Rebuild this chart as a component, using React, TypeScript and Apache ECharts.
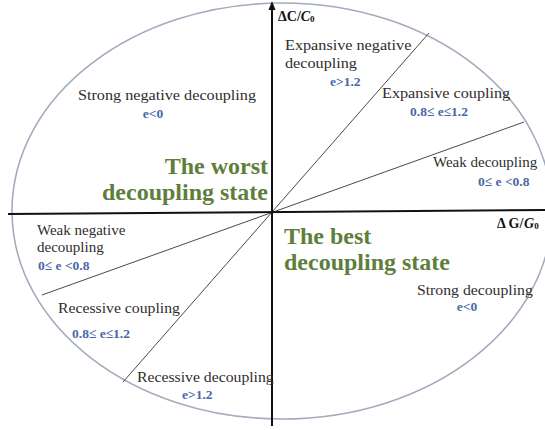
import React, { useEffect, useRef } from "react";
import * as echarts from "echarts";

// ---- content (texts only) ----
const regionNames: string[][] = [
  ["Strong negative decoupling"],
  ["Expansive negative", "decoupling"],
  ["Expansive coupling"],
  ["Weak decoupling"],
  ["Strong decoupling"],
  ["Weak negative", "decoupling"],
  ["Recessive coupling"],
  ["Recessive decoupling"],
];
const regionConditions: string[] = [
  "e<0",
  "e>1.2",
  "0.8\u2264 e\u22641.2",
  "0\u2264 e <0.8",
  "e<0",
  "0\u2264 e <0.8",
  "0.8\u2264 e\u22641.2",
  "e>1.2",
];
const stateLabels: string[][] = [
  ["The worst", "decoupling state"],
  ["The best", "decoupling state"],
];
const axisNames = { y: ["\u0394C/", "C", "0"], x: ["\u0394 G/", "G", "0"] };

// ---- layout ----
const O = { x: 272, y: 212 };
const ELL = { cx: 282, cy: 211, rx: 270, ry: 208 };
const nameLayout = [
  { x: 167, y: 95, align: "center", lh: 18, sx: 1.08 },
  { x: 285, y: 45, align: "left", lh: 18, sx: 1.08 },
  { x: 382, y: 93, align: "left", lh: 18, sx: 1.08 },
  { x: 433, y: 162, align: "left", lh: 18, sx: 1.0 },
  { x: 417, y: 290, align: "left", lh: 18, sx: 1.05 },
  { x: 37, y: 230, align: "left", lh: 17, sx: 1.0 },
  { x: 58, y: 308, align: "left", lh: 18, sx: 1.05 },
  { x: 137, y: 377, align: "left", lh: 18, sx: 1.05 },
];
const condLayout = [
  { x: 153, y: 113, align: "center" },
  { x: 330, y: 81, align: "left" },
  { x: 410, y: 111, align: "left" },
  { x: 478, y: 181, align: "left" },
  { x: 467, y: 306, align: "center" },
  { x: 38, y: 265, align: "left" },
  { x: 72, y: 333, align: "left" },
  { x: 182, y: 394, align: "left" },
];
const stateLayout = [
  { x: 268, y: 166, align: "right" },
  { x: 284, y: 236, align: "left" },
];
const diagEnds = [
  [[429, 33], [123, 382]],
  [[524, 122], [42, 295]],
];

const FONT = "'Liberation Serif', 'Times New Roman', serif";

export default function App() {
  const ref = useRef<HTMLDivElement>(null);
  useEffect(() => {
    if (!ref.current) return;
    const chart = echarts.init(ref.current, null, { renderer: "svg" });
    const g: any[] = [];
    g.push({
      type: "ellipse",
      shape: { cx: ELL.cx, cy: ELL.cy, rx: ELL.rx, ry: ELL.ry },
      style: { fill: "none", stroke: "#a3acbd", lineWidth: 1.6 },
      z: 1,
    });
    diagEnds.forEach((seg) => {
      g.push({
        type: "line",
        shape: { x1: seg[0][0], y1: seg[0][1], x2: seg[1][0], y2: seg[1][1] },
        style: { stroke: "#4a4a4a", lineWidth: 1 },
        z: 2,
      });
    });
    // axes
    g.push({
      type: "line",
      shape: { x1: O.x, y1: 6, x2: O.x, y2: 426 },
      style: { stroke: "#111", lineWidth: 2 },
      z: 3,
    });
    g.push({
      type: "polygon",
      shape: { points: [[O.x, 1], [O.x - 3.5, 10], [O.x + 3.5, 10]] },
      style: { fill: "#111" },
      z: 3,
    });
    g.push({
      type: "line",
      shape: { x1: 8, y1: 214, x2: 545, y2: 210 },
      style: { stroke: "#111", lineWidth: 2 },
      z: 3,
    });
    // axis names
    const axisRich = {
      a: { fontFamily: FONT, fontSize: 14, fontWeight: "bold", fill: "#111" },
      b: { fontFamily: FONT, fontSize: 14, fontWeight: "bold", fontStyle: "italic", fill: "#111" },
      c: { fontFamily: FONT, fontSize: 9, fontWeight: "bold", fill: "#111", padding: [6, 0, 0, 0] },
    };
    g.push({
      type: "text",
      x: 278,
      y: 16,
      style: {
        text: `{a|${axisNames.y[0]}}{b|${axisNames.y[1]}}{c|${axisNames.y[2]}}`,
        rich: axisRich,
        textVerticalAlign: "middle",
        textAlign: "left",
      },
      z: 4,
    });
    g.push({
      type: "text",
      x: 497,
      y: 223,
      style: {
        text: `{a|${axisNames.x[0]}}{b|${axisNames.x[1]}}{c|${axisNames.x[2]}}`,
        rich: axisRich,
        textVerticalAlign: "middle",
        textAlign: "left",
      },
      z: 4,
    });
    regionNames.forEach((lines, i) => {
      const L = nameLayout[i];
      lines.forEach((t, j) => {
        g.push({
          type: "text",
          x: L.x,
          y: L.y + j * L.lh,
          scaleX: L.sx,
          style: {
            text: t,
            fontFamily: FONT,
            fontSize: 15,
            fill: "#2e2e2e",
            textAlign: L.align,
            textVerticalAlign: "middle",
          },
          z: 4,
        });
      });
    });
    regionConditions.forEach((t, i) => {
      const L = condLayout[i];
      g.push({
        type: "text",
        x: L.x,
        y: L.y,
        style: {
          text: t,
          fontFamily: FONT,
          fontSize: 13.5,
          fontWeight: "bold",
          fill: "#4a67a6",
          textAlign: L.align,
          textVerticalAlign: "middle",
        },
        z: 4,
      });
    });
    stateLabels.forEach((lines, i) => {
      const L = stateLayout[i];
      lines.forEach((t, j) => {
        g.push({
          type: "text",
          x: L.x,
          y: L.y + j * 26,
          style: {
            text: t,
            fontFamily: FONT,
            fontSize: 24,
            fontWeight: "bold",
            fill: "#5e7f3c",
            textAlign: L.align,
            textVerticalAlign: "middle",
          },
          z: 4,
        });
      });
    });
    chart.setOption({
      animation: false,
      backgroundColor: "#ffffff",
      graphic: { elements: g },
    });
    return () => chart.dispose();
  }, []);
  return <div ref={ref} style={{ width: 545, height: 430, position: "fixed", left: 0, top: 0 }} />;
}
